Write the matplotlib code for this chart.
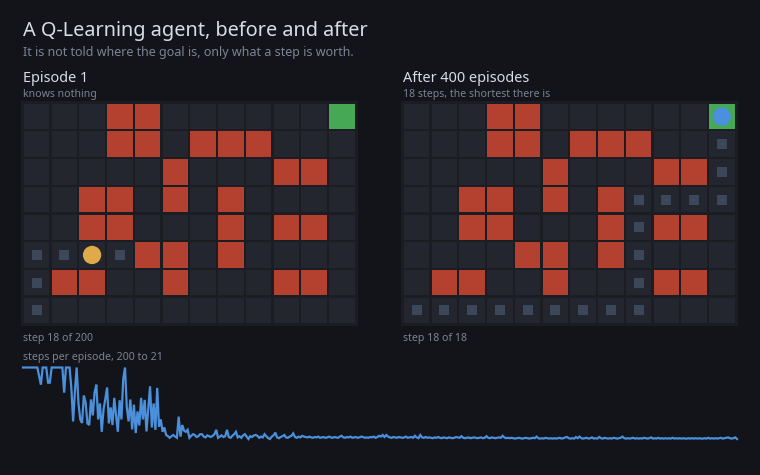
import matplotlib
matplotlib.use("Agg")
import matplotlib.pyplot as plt
from matplotlib.patches import Rectangle, Circle

plt.rcParams['font.family'] = ['Noto Sans', 'DejaVu Sans']

# ---------------- data ----------------
n_rows = 8
n_cols = 12
walls = [(0, 3), (0, 4),
         (1, 3), (1, 4), (1, 6), (1, 7), (1, 8),
         (2, 5), (2, 9), (2, 10),
         (3, 2), (3, 3), (3, 5), (3, 7),
         (4, 2), (4, 3), (4, 7), (4, 9), (4, 10),
         (5, 4), (5, 5), (5, 7),
         (6, 1), (6, 2), (6, 5), (6, 9), (6, 10)]
goal = (0, 11)

before_trail = [(7, 0), (6, 0), (5, 0), (5, 1), (5, 3)]
before_agent = (5, 2)
after_trail = [(7, 0), (7, 1), (7, 2), (7, 3), (7, 4), (7, 5), (7, 6), (7, 7), (7, 8),
               (6, 8), (5, 8), (4, 8), (3, 8), (3, 9), (3, 10), (3, 11), (2, 11), (1, 11)]
after_agent = (0, 11)

steps = [
    200, 200, 200, 200, 200, 200, 200, 200, 200, 178,
    157, 200, 200, 200, 162, 162, 200, 200, 200, 200,
    200, 200, 200, 137, 200, 200, 200, 150, 65, 140,
    200, 110, 70, 61, 130, 112, 60, 56, 120, 80,
    138, 157, 70, 110, 39, 95, 121, 150, 60, 100,
    56, 124, 80, 39, 118, 70, 171, 200, 100, 65,
    120, 45, 107, 36, 90, 55, 124, 70, 119, 40,
    98, 153, 50, 110, 44, 149, 52, 70, 39, 50,
    31, 28, 24, 28, 31, 27, 24, 77, 27, 56,
    42, 39, 44, 24, 29, 33, 31, 26, 28, 33,
    33, 27, 25, 30, 28, 26, 29, 33, 44, 24,
    27, 30, 26, 28, 44, 26, 24, 29, 33, 39,
    25, 28, 24, 30, 33, 27, 21, 28, 26, 30,
    31, 29, 24, 27, 25, 33, 28, 23, 21, 27,
    30, 37, 25, 23, 26, 28, 31, 25, 24, 27,
    29, 35, 26, 24, 27, 25, 29, 27, 26, 25,
    27, 25, 24, 26, 25, 27, 24, 25, 26, 24,
    25, 27, 25, 24, 26, 25, 24, 27, 29, 25,
    24, 26, 25, 27, 24, 25, 26, 24, 25, 27,
    26, 24, 25, 24, 26, 25, 27, 24, 26, 29,
    27, 31, 26, 31, 27, 25, 24, 26, 25, 24,
    26, 25, 24, 25, 27, 24, 25, 26, 24, 29,
    25, 23, 31, 25, 24, 26, 24, 25, 24, 23,
    25, 24, 26, 24, 23, 25, 24, 23, 25, 24,
    23, 24, 26, 25, 24, 28, 24, 23, 24, 25,
    23, 24, 25, 24, 23, 24, 25, 23, 24, 28,
    24, 23, 25, 24, 23, 24, 25, 24, 29, 25,
    23, 24, 23, 24, 23, 22, 23, 24, 23, 22,
    23, 24, 23, 22, 23, 24, 23, 27, 23, 22,
    23, 22, 24, 23, 22, 23, 22, 23, 22, 23,
    24, 22, 23, 25, 26, 23, 22, 23, 22, 26,
    23, 27, 23, 22, 23, 24, 22, 23, 25, 22,
    23, 22, 26, 23, 22, 24, 23, 22, 23, 22,
    24, 23, 22, 23, 24, 27, 23, 22, 23, 22,
    23, 24, 22, 23, 22, 23, 22, 24, 23, 22,
    23, 25, 22, 23, 22, 24, 22, 23, 22, 23,
    22, 23, 22, 24, 22, 23, 22, 23, 22, 23,
    22, 22, 23, 22, 23, 22, 23, 22, 23, 22,
    22, 23, 22, 24, 22, 23, 22, 23, 22, 23,
    24, 22, 23, 24, 25, 23, 22, 23, 25, 21,
]

title = "A Q-Learning agent, before and after"
subtitle = "It is not told where the goal is, only what a step is worth."
panel_titles = ["Episode 1", "After 400 episodes"]
panel_subs = ["knows nothing", "18 steps, the shortest there is"]
panel_steps = ["step 18 of 200", "step 18 of 18"]
chart_label = "steps per episode, 200 to 21"

# ---------------- style ----------------
BG = "#131419"
FRAME = "#1b1d23"
CELL = "#23262f"
WALL = "#b4402f"
GOAL = "#46a854"
TRAIL = "#3c4759"
AGENT_BEFORE = "#e0a94a"
AGENT_AFTER = "#4a90dc"
LINE = "#4a90dc"
TXT = "#d8dce5"
MUTED = "#7c8393"

W, H = 760, 475
fig = plt.figure(figsize=(W / 100, H / 100), dpi=100, facecolor=BG)


def fx(px):
    return px / W


def fy(py):
    return 1 - py / H


fig.text(fx(23), fy(36), title, fontsize=14.3, color=TXT, va='baseline', ha='left')
fig.text(fx(23), fy(56), subtitle, fontsize=9.0, color=MUTED, va='baseline', ha='left')


def draw_grid(left_px, trail, agent, agent_color):
    top_px, bottom_px = 102.7, 324.2
    right_px = left_px + 333.0
    ax = fig.add_axes([fx(left_px - 2), fy(bottom_px + 2),
                       (right_px - left_px + 4) / W, (bottom_px - top_px + 4) / H])
    ax.set_xlim(-2 / 27.75, n_cols + 2 / 27.75)
    ax.set_ylim(n_rows + 2 / 27.7, -2 / 27.7)
    ax.axis('off')
    ax.add_patch(Rectangle((-2 / 27.75, -2 / 27.7), n_cols + 4 / 27.75, n_rows + 4 / 27.7,
                           facecolor=FRAME, edgecolor='none', zorder=0))
    g = 0.04
    wall_set = set(walls)
    for r in range(n_rows):
        for c in range(n_cols):
            if (r, c) == goal:
                col = GOAL
            elif (r, c) in wall_set:
                col = WALL
            else:
                col = CELL
            ax.add_patch(Rectangle((c + g, r + g), 1 - 2 * g, 1 - 2 * g,
                                   facecolor=col, edgecolor='none', zorder=1))
    s = 0.36
    for (r, c) in trail:
        ax.add_patch(Rectangle((c + 0.5 - s / 2, r + 0.5 - s / 2), s, s,
                               facecolor=TRAIL, edgecolor='none', zorder=2))
    ar, ac = agent
    ax.add_patch(Circle((ac + 0.5, ar + 0.5), 0.33, facecolor=agent_color,
                        edgecolor='none', zorder=3))
    return ax


draw_grid(22.7, before_trail, before_agent, AGENT_BEFORE)
draw_grid(402.7, after_trail, after_agent, AGENT_AFTER)

for i, x0 in enumerate([23, 403]):
    fig.text(fx(x0), fy(82), panel_titles[i], fontsize=10.4, color=TXT, va='baseline', ha='left')
    fig.text(fx(x0), fy(96.5), panel_subs[i], fontsize=7.6, color=MUTED, va='baseline', ha='left')
    fig.text(fx(x0), fy(340.5), panel_steps[i], fontsize=7.6, color=MUTED, va='baseline', ha='left')

fig.text(fx(23), fy(360), chart_label, fontsize=7.6, color=MUTED, va='baseline', ha='left')

# line chart
lax = fig.add_axes([fx(23), fy(439), (737 - 23) / W, (439 - 367.5) / H])
lax.set_facecolor('none')
lax.plot(range(len(steps)), steps, color=LINE, lw=1.6, solid_joinstyle='miter', clip_on=False)
lax.set_xlim(0, len(steps) - 1)
lax.set_ylim(min(steps), max(steps))
lax.axis('off')

fig.savefig("out.png", dpi=100, facecolor=BG)
